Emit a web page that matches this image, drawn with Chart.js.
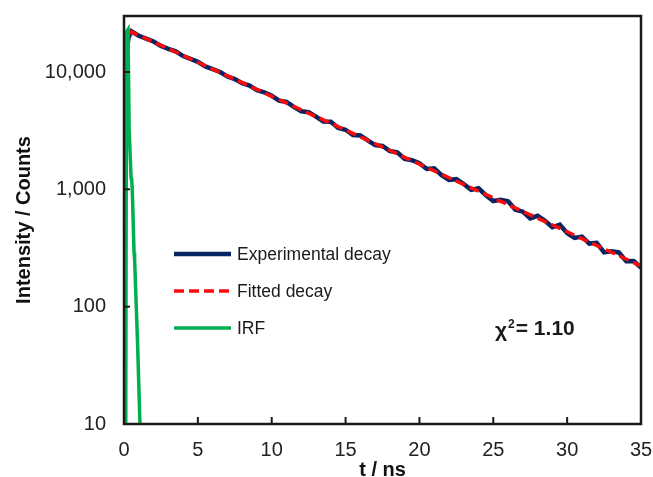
<!DOCTYPE html>
<html>
<head>
<meta charset="utf-8">
<script src="https://cdn.jsdelivr.net/npm/chart.js@4"></script>
<style>
	body { margin: 0; background: #fff; }
</style>
</head>
<body>
<canvas id="chart" width="653" height="477"></canvas>
<script>
// time axis (ns) and counts
const expTimes = [0, 0.05, 0.1, 0.3, 0.5, 1, 1.5, 2, 2.5, 3, 3.5, 4, 4.5, 5, 5.5, 6, 6.5, 7, 7.5, 8, 8.5, 9, 9.5,
	10, 10.5, 11, 11.5, 12, 12.5, 13, 13.5, 14, 14.5, 15, 15.5, 16, 16.5, 17, 17.5, 18, 18.5, 19, 19.5,
	20, 20.5, 21, 21.5, 22, 22.5, 23, 23.5, 24, 24.5, 25, 25.5, 26, 26.5, 27, 27.5, 28, 28.5, 29, 29.5,
	30, 30.5, 31, 31.5, 32, 32.5, 33, 33.5, 34, 34.5, 35];
const expCounts = [10, 300, 12000, 19500, 22220, 20370, 19260, 18200, 16690, 15770, 14980, 13670, 12920, 12210, 11140, 10580, 10000, 9170, 8710, 8030, 7670, 6990, 6710,
	6270, 5690, 5550, 5040, 4620, 4540, 4170, 3780, 3760, 3340, 3220, 2900, 2880, 2615, 2380, 2340, 2120, 2065, 1820, 1770,
	1670, 1490, 1510, 1320, 1200, 1220, 1110, 990, 1020, 890, 795, 815, 790, 670, 645, 565, 595, 540, 475, 500,
	425, 385, 395, 345, 350, 290, 296, 290, 244, 245, 215];

const fitTimes = [0.02, 0.1, 0.3, 0.5, 5, 10, 15, 20, 25, 30, 35];
const fitCounts = [10, 9000, 19000, 22000, 12100, 6200, 3200, 1640, 845, 435, 222];

const irfTimes = [0.12, 0.17, 0.27, 0.35, 0.48, 0.52, 0.56, 0.68, 0.72, 0.92, 1.08];
const irfCounts = [10, 22000, 23000, 3200, 1250, 1200, 1000, 290, 250, 48, 10];

const xTicks = [0, 5, 10, 15, 20, 25, 30, 35];
const yTicks = [10, 100, 1000, 10000];

const seriesNames = ["Experimental decay", "Fitted decay", "IRF"];
const seriesColors = ["#072462", "#ff0a0a", "#00b050"];

function toPoints(xs, ys) {
	return xs.map((x, i) => ({x: x, y: ys[i]}));
}

const font = "'Liberation Sans', Arial, sans-serif";

// frame, inward ticks, legend and chi-square label
const extrasPlugin = {
	id: "extras",
	afterDraw(chart) {
		const ctx = chart.ctx;
		const area = chart.chartArea;
		const xs = chart.scales.x;
		const ys = chart.scales.y;
		ctx.save();
		ctx.strokeStyle = "#1a1a1a";
		ctx.lineWidth = 2.5;
		ctx.strokeRect(area.left, area.top, area.right - area.left, area.bottom - area.top);

		ctx.lineWidth = 2;
		for(const t of xTicks) {
			if(t === xTicks[0] || t === xTicks[xTicks.length - 1])
				continue;
			const px = xs.getPixelForValue(t);
			ctx.beginPath();
			ctx.moveTo(px, area.bottom);
			ctx.lineTo(px, area.bottom - 7);
			ctx.stroke();
		}
		for(const v of yTicks) {
			if(v === yTicks[0])
				continue;
			const py = ys.getPixelForValue(v);
			ctx.beginPath();
			ctx.moveTo(area.left, py);
			ctx.lineTo(area.left + 6, py);
			ctx.stroke();
		}

		// legend
		const rows = [254, 291, 328];
		ctx.font = "17.5px " + font;
		ctx.textBaseline = "middle";
		ctx.fillStyle = "#1a1a1a";
		chart.data.datasets.forEach((ds, i) => {
			ctx.strokeStyle = ds.borderColor;
			ctx.lineWidth = ds.borderWidth;
			ctx.setLineDash(ds.borderDash || []);
			ctx.beginPath();
			ctx.moveTo(174, rows[i]);
			ctx.lineTo(231, rows[i]);
			ctx.stroke();
			ctx.setLineDash([]);
			ctx.fillText(ds.label, 237, rows[i] + 1);
		});

		// chi-square
		ctx.font = "bold 21px " + font;
		ctx.fillText("\u03c7", 495, 331);
		let w = ctx.measureText("\u03c7").width;
		ctx.font = "bold 12px " + font;
		ctx.fillText("2", 495 + w + 1, 325);
		w += ctx.measureText("2").width + 2;
		ctx.font = "bold 21px " + font;
		ctx.fillText("= 1.10", 495 + w, 329);
		ctx.restore();
	}
};

new Chart(document.getElementById("chart"), {
	type: "line",
	data: {
		datasets: [
			{
				label: seriesNames[0],
				data: toPoints(expTimes, expCounts),
				borderColor: seriesColors[0],
				borderWidth: 4.5,
				order: 2
			},
			{
				label: seriesNames[1],
				data: toPoints(fitTimes, fitCounts),
				borderColor: seriesColors[1],
				borderWidth: 3.5,
				borderDash: [10, 5],
				order: 1
			},
			{
				label: seriesNames[2],
				data: toPoints(irfTimes, irfCounts),
				borderColor: seriesColors[2],
				borderWidth: 3.5,
				order: 0
			}
		]
	},
	options: {
		responsive: false,
		animation: false,
		elements: {
			point: { radius: 0 },
			line: { tension: 0, fill: false }
		},
		layout: { padding: { top: 16, right: 12, left: 0, bottom: 0 } },
		plugins: {
			legend: { display: false },
			tooltip: { enabled: false }
		},
		scales: {
			x: {
				type: "linear",
				min: 0,
				max: 35,
				grid: { display: false, drawTicks: false },
				border: { display: false },
				afterBuildTicks(scale) {
					scale.ticks = xTicks.map(v => ({value: v}));
				},
				afterFit(scale) {
					scale.height = 53;
					scale.paddingLeft = 0;
					scale.paddingRight = 0;
				},
				ticks: {
					padding: 14,
					color: "#222",
					font: { family: font, size: 20 },
					maxRotation: 0
				},
				title: {
					display: true,
					text: "t / ns",
					color: "#111",
					padding: 0,
					font: { family: font, size: 20, weight: "bold", lineHeight: 0.7 }
				}
			},
			y: {
				type: "logarithmic",
				min: 10,
				max: 30000,
				grid: { display: false, drawTicks: false },
				border: { display: false },
				afterBuildTicks(scale) {
					scale.ticks = yTicks.map(v => ({value: v}));
				},
				afterFit(scale) {
					scale.width = 124;
					scale.paddingTop = 0;
					scale.paddingBottom = 0;
				},
				ticks: {
					padding: 18,
					color: "#222",
					font: { family: font, size: 20 },
					callback: v => Number(v).toLocaleString("en-US")
				},
				title: {
					display: true,
					text: "Intensity / Counts",
					color: "#111",
					padding: 12,
					font: { family: font, size: 20, weight: "bold" }
				}
			}
		}
	},
	plugins: [extrasPlugin]
});
</script>
</body>
</html>
